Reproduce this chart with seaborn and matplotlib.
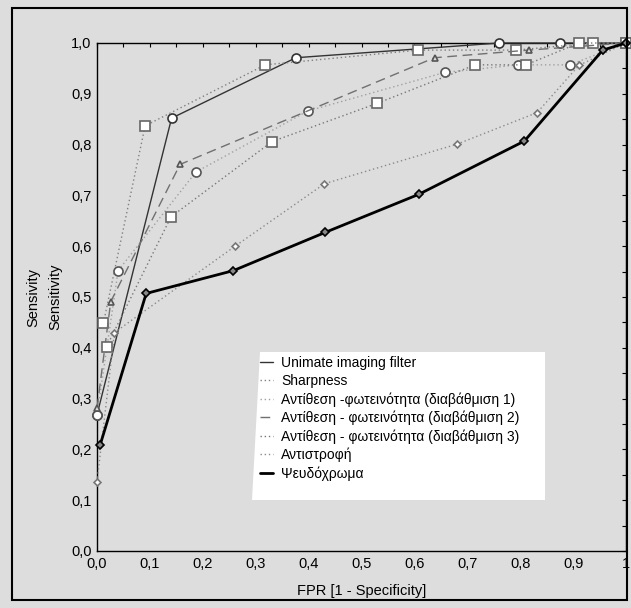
import matplotlib
matplotlib.use("Agg")
import matplotlib.pyplot as plt
import seaborn as sns
import pandas as pd
from matplotlib.patches import Rectangle, Polygon
from matplotlib.lines import Line2D
from matplotlib.ticker import FuncFormatter, MultipleLocator

# ROC points (FPR, sensitivity)
unimate_x = [0.0, 0.141, 0.376, 0.760, 0.875, 1.0]
unimate_y = [0.268, 0.852, 0.971, 1.0, 1.0, 1.0]

sharpness_x = [0.012, 0.091, 0.318, 0.607, 0.793, 0.937, 1.0]
sharpness_y = [0.448, 0.837, 0.957, 0.986, 0.986, 1.0, 1.0]

contrast1_x = [0.0, 0.040, 0.187, 0.398, 0.657, 0.796, 0.894, 1.0]
contrast1_y = [0.268, 0.552, 0.746, 0.866, 0.942, 0.957, 0.957, 1.0]

contrast2_x = [0.0, 0.026, 0.157, 0.638, 0.816, 1.0]
contrast2_y = [0.281, 0.491, 0.761, 0.971, 0.986, 1.0]

contrast3_x = [0.018, 0.140, 0.331, 0.529, 0.715, 0.811, 0.911, 1.0]
contrast3_y = [0.402, 0.658, 0.806, 0.881, 0.957, 0.957, 1.0, 1.0]

inversion_x = [0.0, 0.033, 0.261, 0.430, 0.681, 0.832, 0.911, 1.0]
inversion_y = [0.136, 0.430, 0.600, 0.723, 0.801, 0.863, 0.956, 1.0]

pseudo_x = [0.006, 0.093, 0.258, 0.431, 0.608, 0.808, 0.956, 1.0]
pseudo_y = [0.209, 0.507, 0.552, 0.627, 0.702, 0.807, 0.986, 1.0]

labels = [
    "Unimate imaging filter",
    "Sharpness",
    "Αντίθεση -φωτεινότητα (διαβάθμιση 1)",
    "Αντίθεση - φωτεινότητα (διαβάθμιση 2)",
    "Αντίθεση - φωτεινότητα (διαβάθμιση 3)",
    "Αντιστροφή",
    "Ψευδόχρωμα",
]

BG = "#dddddd"
W, H = 631, 608
sns.set_theme(style="white")
plt.rcParams["font.family"] = ["Liberation Sans", "DejaVu Sans"]
plt.rcParams["axes.facecolor"] = BG
plt.rcParams["figure.facecolor"] = BG

fig = plt.figure(figsize=(6.31, 6.08), dpi=100)
ax = fig.add_axes([97 / W, 1 - 551 / H, 529 / W, 508 / H])

# styles: colour, linestyle, linewidth, marker, marker size, face, edge
styles = [
    ("#333333", "-", 1.0, "o", 6.5, "white", "#333333"),
    ("#808080", (0, (1, 2)), 1.0, "s", 6.5, "white", "#666666"),
    ("#a0a0a0", (0, (1, 2)), 1.0, "o", 6.5, "white", "#555555"),
    ("#707070", (0, (7, 4)), 1.0, "^", 5.0, BG, "#555555"),
    ("#777777", (0, (1, 2)), 1.0, "s", 6.5, "white", "#666666"),
    ("#8a8a8a", (0, (1, 2)), 1.0, "D", 3.5, "white", "#777777"),
    ("#000000", "-", 2.0, "D", 4.0, "#888888", "#000000"),
]

series = [
    (unimate_x, unimate_y),
    (sharpness_x, sharpness_y),
    (contrast1_x, contrast1_y),
    (contrast2_x, contrast2_y),
    (contrast3_x, contrast3_y),
    (inversion_x, inversion_y),
    (pseudo_x, pseudo_y),
]

handles = []
for (xs, ys), lab, st in zip(series, labels, styles):
    color, ls, lw, mk, ms, mfc, mec = st
    df = pd.DataFrame({"fpr": xs, "sens": ys})
    sns.lineplot(data=df, x="fpr", y="sens", ax=ax, sort=False, estimator=None,
                 color=color, linestyle=ls, linewidth=lw, marker=mk,
                 markersize=ms, markerfacecolor=mfc, markeredgecolor=mec,
                 markeredgewidth=1.2, clip_on=False, zorder=3)
    handles.append(Line2D([0], [0], color=color, linestyle=ls, linewidth=lw))

ax.set_xlim(0, 1)
ax.set_ylim(0, 1)
ax.xaxis.set_major_locator(MultipleLocator(0.1))
ax.yaxis.set_major_locator(MultipleLocator(0.1))
ax.xaxis.set_minor_locator(MultipleLocator(0.05))
ax.yaxis.set_minor_locator(MultipleLocator(0.05))
ax.xaxis.set_major_formatter(FuncFormatter(
    lambda v, p: "1" if abs(v - 1) < 1e-9 else f"{v:.1f}".replace(".", ",")))
ax.yaxis.set_major_formatter(FuncFormatter(lambda v, p: f"{v:.1f}".replace(".", ",")))
ax.tick_params(which="both", direction="in", length=3, width=0.8, color="black",
               top=True, right=True, labelsize=10.5, labelcolor="black", pad=4)

for s in ax.spines.values():
    s.set_visible(True)
    s.set_color("black")
    s.set_linewidth(1.0)

ax.set_xlabel("FPR [1 - Specificity]", fontsize=10.5, color="black", labelpad=10)
ax.set_ylabel("Sensitivity", fontsize=10.5, color="black", labelpad=6)
fig.text(33 / W, 1 - 298 / H, "Sensivity", rotation=90, ha="center",
         va="center", fontsize=10.5, color="black")


def px(x, y):
    # pixel position -> axes fraction
    return ((x - 97) / 529, (551 - y) / 508)


# white background patch of the legend (slanted left edge as in the original)
ax.add_patch(Polygon([px(260, 352), px(545, 352), px(545, 500), px(252, 500)],
                     closed=True, transform=ax.transAxes, facecolor="white",
                     edgecolor="none", zorder=4))

leg = ax.legend(handles, labels, loc="upper left", bbox_to_anchor=px(256, 352),
                borderaxespad=0, frameon=False, handlelength=0.9,
                handletextpad=0.6, labelspacing=0.29, borderpad=0.3,
                prop={"family": ["Liberation Sans", "DejaVu Sans"], "size": 10})
leg.set_zorder(5)
for t in leg.get_texts():
    t.set_color("black")

fig.patches.append(Rectangle((12 / W, 8 / H), 615 / W, 592 / H,
                             transform=fig.transFigure, fill=False,
                             edgecolor="black", linewidth=1.5))

fig.savefig("out.png", dpi=100, facecolor=BG)
